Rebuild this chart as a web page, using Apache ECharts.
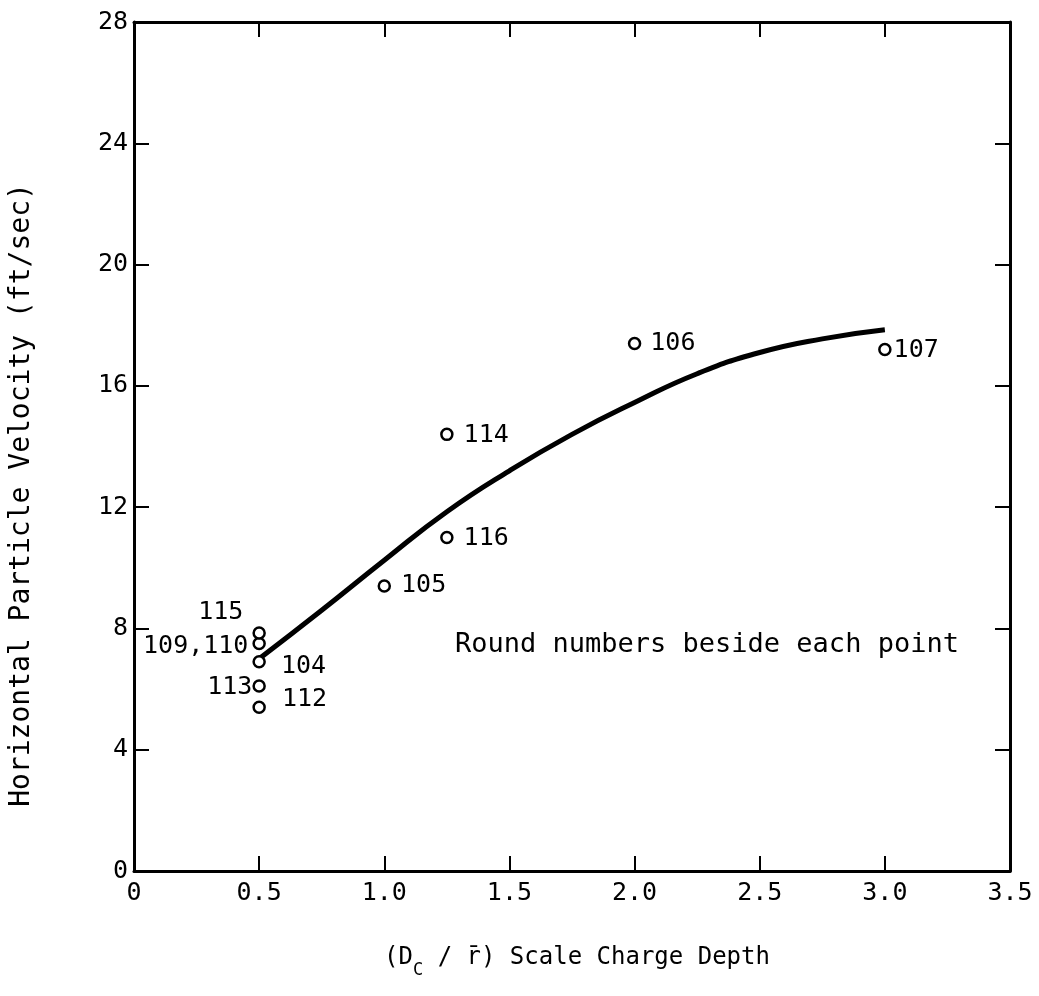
<!DOCTYPE html>
<html>
<head>
<meta charset="utf-8">
<script src="https://cdn.jsdelivr.net/npm/echarts@6/dist/echarts.min.js"></script>
<style>
  html, body { margin: 0; padding: 0; background: #fff; overflow: hidden; }
  #chart { width: 1039px; height: 996px; }
</style>
</head>
<body>
<div id="chart"></div>
<script>
// Test rounds: scaled charge depth (Dc / r-bar) vs horizontal particle velocity (ft/sec)
const runs     = ['104', '105', '106', '107', '109,110', '112', '113', '114', '115', '116'];
const depth    = [0.5, 1.0, 2.0, 3.0, 0.5, 0.5, 0.5, 1.25, 0.5, 1.25];
const velocity = [6.9, 9.4, 17.4, 17.2, 7.5, 5.4, 6.1, 14.4, 7.85, 11.0];

// Fitted trend curve
const curveDepth    = [0.5, 0.75, 1.0, 1.25, 1.5, 1.75, 2.0, 2.25, 2.5, 2.75, 3.0];
const curveVelocity = [7.0, 8.6, 10.25, 11.85, 13.2, 14.4, 15.45, 16.4, 17.1, 17.55, 17.85];

// Axis ticks
const xTicks = [0, 0.5, 1.0, 1.5, 2.0, 2.5, 3.0, 3.5];
const yTicks = [0, 4, 8, 12, 16, 20, 24, 28];

const FONT = '"DejaVu Sans Mono", monospace';
const INK = '#000';

// Where each round number sits next to its circle
const labelPlacement = {
  '104':     { position: 'right', offset: [10, 5] },
  '105':     { position: 'right', offset: [5, 0] },
  '106':     { position: 'right', offset: [4, 0] },
  '107':     { position: 'right', offset: [-3, 1] },
  '109,110': { position: 'left',  offset: [1, 3] },
  '112':     { position: 'right', offset: [11, -8] },
  '113':     { position: 'left',  offset: [5, 1] },
  '114':     { position: 'right', offset: [5, 1] },
  '115':     { position: 'left',  offset: [-4, -20] },
  '116':     { position: 'right', offset: [5, 1] }
};

const points = runs.map((r, i) => ({
  name: r,
  value: [depth[i], velocity[i]],
  label: labelPlacement[r]
}));

const curve = curveDepth.map((d, i) => [d, curveVelocity[i]]);

const axisCommon = {
  axisLine: { show: true, onZero: false, lineStyle: { color: INK, width: 3 } },
  axisTick: { show: true, inside: true, length: 15, lineStyle: { color: INK, width: 2 } },
  splitLine: { show: false }
};

const chart = echarts.init(document.getElementById('chart'));
chart.setOption({
  backgroundColor: '#fff',
  animation: false,
  grid: { left: 134, top: 22, width: 876, height: 849, containLabel: false },
  xAxis: [
    Object.assign({
      type: 'value', position: 'bottom',
      min: xTicks[0], max: xTicks[xTicks.length - 1], interval: 0.5,
      axisLabel: {
        color: INK, fontFamily: FONT, fontSize: 25, margin: 10,
        formatter: v => (v === 0 ? '0' : v.toFixed(1))
      }
    }, axisCommon),
    Object.assign({
      type: 'value', position: 'top',
      min: xTicks[0], max: xTicks[xTicks.length - 1], interval: 0.5,
      axisLabel: { show: false }
    }, axisCommon)
  ],
  yAxis: [
    Object.assign({
      type: 'value', position: 'left',
      min: yTicks[0], max: yTicks[yTicks.length - 1], interval: 4,
      axisLabel: { color: INK, fontFamily: FONT, fontSize: 25, margin: 6 }
    }, axisCommon),
    Object.assign({
      type: 'value', position: 'right',
      min: yTicks[0], max: yTicks[yTicks.length - 1], interval: 4,
      axisLabel: { show: false }
    }, axisCommon)
  ],
  series: [
    {
      type: 'line',
      data: curve,
      smooth: true,
      showSymbol: false,
      lineStyle: { color: INK, width: 5 },
      silent: true,
      z: 2
    },
    {
      type: 'scatter',
      data: points,
      symbol: 'circle',
      symbolSize: 11,
      itemStyle: { color: '#fff', borderColor: INK, borderWidth: 2.5, opacity: 1 },
      label: {
        show: true, formatter: p => p.name,
        color: INK, fontFamily: FONT, fontSize: 25, distance: 5
      },
      z: 3
    }
  ],
  graphic: [
    {
      // y-axis title
      type: 'text', x: 22, y: 495, rotation: Math.PI / 2,
      style: {
        text: 'Horizontal Particle Velocity (ft/sec)',
        fill: INK, font: '28px ' + FONT,
        textAlign: 'center', textVerticalAlign: 'middle'
      }
    },
    {
      // x-axis title with subscript
      type: 'text', x: 577, y: 958,
      style: {
        text: '(D{sub|C} / r\u0304) Scale Charge Depth',
        fill: INK, font: '24px ' + FONT,
        textAlign: 'center', textVerticalAlign: 'middle',
        rich: { sub: { font: '17px ' + FONT, fill: INK, padding: [26, 0, 0, 0] } }
      }
    },
    {
      type: 'text', x: 455, y: 645,
      style: {
        text: 'Round numbers beside each point',
        fill: INK, font: '27px ' + FONT,
        textAlign: 'left', textVerticalAlign: 'middle'
      }
    }
  ]
});
</script>
</body>
</html>
